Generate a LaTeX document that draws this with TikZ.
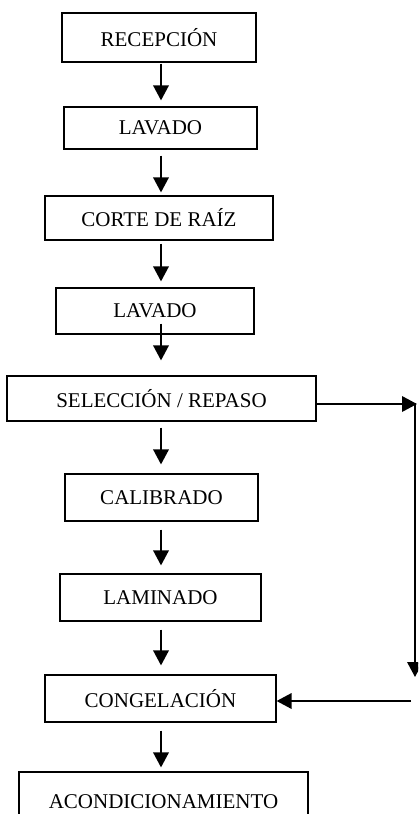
\documentclass[tikz,border=0pt]{standalone}
\usepackage{fontspec}
\setmainfont{Liberation Serif}
\usetikzlibrary{arrows.meta}
\begin{document}
\begin{tikzpicture}[x=1pt,y=-1pt,
  stepbox/.style={draw,line width=1.2pt,inner sep=0pt,font=\fontsize{21}{24}\selectfont},
  flow/.style={line width=1.9pt,-{Triangle[length=15pt,width=15.5pt]}}]
\useasboundingbox (0,0) rectangle (418,814);
\clip (0,0) rectangle (418,814);
\node[stepbox,minimum width=194pt,minimum height=49pt] (n1) at (159,37.5) {RECEPCIÓN};
\node[stepbox,minimum width=193pt,minimum height=42pt] (n2) at (160.5,128) {LAVADO};
\node[stepbox,minimum width=228pt,minimum height=44pt] (n3) at (159,218) {CORTE DE RAÍZ};
\node[stepbox,minimum width=198pt,minimum height=46pt] (n4) at (155,311) {LAVADO};
\node[stepbox,minimum width=309pt,minimum height=45pt] (n5) at (161.5,398.5) {SELECCIÓN / REPASO};
\node[stepbox,minimum width=193pt,minimum height=47pt] (n6) at (161.5,497.5) {CALIBRADO};
\node[stepbox,minimum width=201pt,minimum height=47pt] (n7) at (160.5,597.5) {LAMINADO};
\node[stepbox,minimum width=231pt,minimum height=47pt] (n8) at (160.5,698.5) {CONGELACIÓN};
\node[stepbox,minimum width=289pt,minimum height=72pt,text depth=0pt] (n9) at (163.5,808) {\raisebox{13pt}{ACONDICIONAMIENTO}};
\coordinate (spine) at (161,0);
\coordinate (rt) at (417,404);
\coordinate (rtop) at (415,403);
\coordinate (rbot) at (415,677);
\coordinate (lstart) at (411,701);
\draw[flow,shorten <=1pt,shorten >=6pt] (n1.south -| spine) -- (n2.north -| spine);
\draw[flow,shorten <=6pt,shorten >=3pt] (n2.south -| spine) -- (n3.north -| spine);
\draw[flow,shorten <=3pt,shorten >=6pt] (n3.south -| spine) -- (n4.north -| spine);
\draw[flow,shorten <=-11pt,shorten >=15pt] (n4.south -| spine) -- (n5.north -| spine);
\draw[flow,shorten <=6pt,shorten >=9pt] (n5.south -| spine) -- (n6.north -| spine);
\draw[flow,shorten <=8pt,shorten >=8pt] (n6.south -| spine) -- (n7.north -| spine);
\draw[flow,shorten <=8pt,shorten >=9pt] (n7.south -| spine) -- (n8.north -| spine);
\draw[flow,shorten <=8pt,shorten >=4pt] (n8.south -| spine) -- (n9.north -| spine);
\draw[flow] (rt -| n5.east) -- (rt);
\draw[flow] (rtop) -- (rbot);
\draw[flow] (lstart) -- (lstart -| n8.east);
\end{tikzpicture}
\end{document}
